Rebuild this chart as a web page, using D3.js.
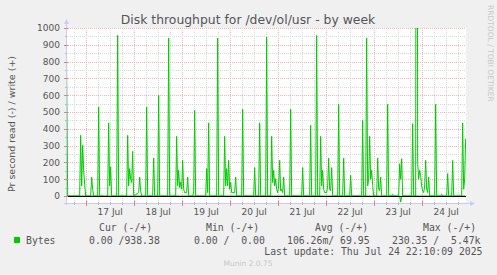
<!DOCTYPE html>
<html>
<head>
<meta charset="utf-8">
<script src="https://cdn.jsdelivr.net/npm/d3@7"></script>
<style>
  body { margin: 0; background: #f0f0f0; }
  svg text { font-family: "DejaVu Sans", sans-serif; fill: #555; }
  svg text.mono { font-family: "DejaVu Sans Mono", monospace; white-space: pre; }
</style>
</head>
<body>
<svg id="chart" width="497" height="275"></svg>
<script>
// write (+) bytes/s, half-hour samples, day + time in July 2025
const writeSeries = [
  ["16 14:10", 1200], ["16 15:00", 0], ["16 21:00", 0], ["16 21:30", 361], ["16 22:00", 60],
  ["16 22:30", 302], ["16 23:00", 150], ["16 23:30", 70], ["17 00:00", 0], ["17 02:30", 0],
  ["17 03:00", 113], ["17 03:30", 40], ["17 04:00", 0], ["17 06:00", 0], ["17 06:30", 530],
  ["17 07:00", 0], ["17 11:00", 0], ["17 11:30", 435], ["17 12:00", 60], ["17 12:30", 173],
  ["17 13:00", 0], ["17 15:30", 0], ["17 16:00", 956], ["17 16:30", 0], ["17 20:30", 0],
  ["17 21:00", 361], ["17 21:30", 60], ["17 22:00", 163], ["17 22:30", 100], ["17 23:00", 80],
  ["17 23:30", 266], ["18 00:00", 0], ["18 02:30", 20], ["18 03:00", 113], ["18 03:30", 30],
  ["18 04:00", 0], ["18 06:00", 0], ["18 06:30", 530], ["18 07:00", 0], ["18 09:30", 0],
  ["18 10:00", 226], ["18 10:30", 0], ["18 12:00", 0], ["18 12:30", 599], ["18 13:00", 0],
  ["18 17:00", 0], ["18 17:30", 940], ["18 18:00", 0], ["18 21:00", 0], ["18 21:30", 355],
  ["18 22:00", 60], ["18 22:30", 153], ["18 23:00", 50], ["18 23:30", 83], ["19 00:00", 40],
  ["19 00:30", 212], ["19 01:00", 40], ["19 01:30", 20], ["19 02:30", 20], ["19 03:00", 113],
  ["19 03:30", 0], ["19 05:30", 0], ["19 06:00", 24], ["19 06:30", 510], ["19 07:00", 0],
  ["19 12:00", 0], ["19 12:30", 163], ["19 13:00", 20], ["19 13:30", 435], ["19 14:00", 0],
  ["19 17:30", 0], ["19 18:00", 940], ["19 18:30", 0], ["19 21:00", 0], ["19 21:30", 355],
  ["19 22:00", 60], ["19 22:30", 163], ["19 23:00", 60], ["19 23:30", 212], ["20 00:00", 40],
  ["20 00:30", 83], ["20 01:00", 20], ["20 02:30", 20], ["20 03:00", 113], ["20 03:30", 0],
  ["20 06:00", 0], ["20 06:30", 516], ["20 07:00", 0], ["20 12:00", 0], ["20 12:30", 169],
  ["20 13:00", 0], ["20 14:30", 0], ["20 15:00", 435], ["20 15:30", 0], ["20 18:00", 0],
  ["20 18:30", 946], ["20 19:00", 0], ["20 20:30", 0], ["20 21:00", 355], ["20 21:30", 80],
  ["20 22:00", 153], ["20 22:30", 60], ["20 23:00", 103], ["20 23:30", 40], ["21 00:00", 20],
  ["21 00:30", 60], ["21 01:00", 212], ["21 01:30", 30], ["21 02:00", 40], ["21 02:30", 20],
  ["21 03:00", 113], ["21 03:30", 0], ["21 06:00", 0], ["21 06:30", 516], ["21 07:00", 0],
  ["21 12:00", 0], ["21 12:30", 169], ["21 13:00", 0], ["21 16:00", 0], ["21 16:30", 421],
  ["21 17:00", 0], ["21 19:00", 0], ["21 19:30", 956], ["21 20:00", 0], ["21 21:00", 0],
  ["21 21:30", 355], ["21 22:00", 60], ["21 22:30", 153], ["21 23:00", 40], ["21 23:30", 20],
  ["22 00:30", 20], ["22 01:00", 60], ["22 01:30", 226], ["22 02:00", 40], ["22 02:30", 30],
  ["22 03:00", 169], ["22 03:30", 0], ["22 06:00", 0], ["22 06:30", 546], ["22 07:00", 0],
  ["22 08:30", 0], ["22 09:00", 226], ["22 09:30", 0], ["22 12:00", 0], ["22 12:30", 123],
  ["22 13:00", 0], ["22 18:00", 0], ["22 18:30", 450], ["22 19:00", 0], ["22 20:00", 0],
  ["22 20:30", 940], ["22 21:00", 60], ["22 21:30", 100], ["22 22:00", 355], ["22 22:30", 100],
  ["22 23:00", 153], ["22 23:30", 63], ["23 00:00", 0], ["23 01:30", 0], ["23 02:00", 226],
  ["23 02:30", 40], ["23 03:00", 30], ["23 03:30", 113], ["23 04:00", 0], ["23 06:30", 0],
  ["23 07:00", 546], ["23 07:30", 0], ["23 09:00", 0], ["23 09:30", 10], ["23 10:00", 0],
  ["23 12:30", 0], ["23 13:00", 192], ["23 13:30", 100], ["23 14:00", 222], ["23 14:30", 0],
  ["23 19:00", 0], ["23 19:30", 430], ["23 20:00", 0], ["23 21:00", 0], ["23 21:30", 5470],
  ["23 22:00", 200], ["23 22:30", 100], ["23 23:00", 153], ["23 23:30", 120], ["24 00:00", 60],
  ["24 00:30", 30], ["24 01:00", 20], ["24 01:30", 60], ["24 02:00", 212], ["24 02:30", 40],
  ["24 03:00", 20], ["24 03:30", 113], ["24 04:00", 0], ["24 06:30", 0], ["24 07:00", 546],
  ["24 07:30", 0], ["24 09:30", 0], ["24 10:00", 10], ["24 10:30", 0], ["24 12:30", 0],
  ["24 13:00", 133], ["24 13:30", 0], ["24 15:00", 0], ["24 15:30", 212], ["24 16:00", 0],
  ["24 20:00", 0], ["24 20:30", 435], ["24 21:00", 40], ["24 21:30", 100], ["24 22:00", 341]
];
// read (-) bytes/s, drawn below zero
const readSeries = [
  ["16 14:10", 0], ["17 09:00", 0], ["17 09:30", 6], ["17 10:00", 0],
  ["23 13:00", 0], ["23 13:30", 36], ["23 14:00", 0], ["24 22:00", 0]
];
const yTicks = [0, 100, 200, 300, 400, 500, 600, 700, 800, 900, 1000];
const yMinorTicks = [50, 150, 250, 350, 450, 550, 650, 750, 850, 950];
const dayLabels = ["17 12:00", "18 12:00", "19 12:00", "20 12:00", "21 12:00", "22 12:00", "23 12:00", "24 12:00"];
const legendHead = ["Cur (-/+)", "Min (-/+)", "Avg (-/+)", "Max (-/+)"];
const legendValues = ["0.00 /938.38", "0.00 /  0.00", "106.26m/ 69.95", "230.35 /  5.47k"];

const parseTime = s => d3.timeParse("%Y-%m-%d %H:%M")("2025-07-" + s);
const start = parseTime("16 14:10"), end = parseTime("24 22:10");
const plotLeft = 66, plotRight = 466, plotTop = 28, plotBottom = 203;

const svg = d3.select("#chart");

const x = d3.scaleTime().domain([start, end]).range([plotLeft, plotRight]);
const y = d3.scaleLinear().domain([-41.67, 1000]).range([plotBottom, plotTop]);
const px = v => Math.round(v) + 0.5;

// canvas
svg.append("rect").attr("x", plotLeft).attr("y", plotTop)
  .attr("width", plotRight - plotLeft).attr("height", plotBottom - plotTop).attr("fill", "#fff");

const minorColor = "#d8d8d8", majorColor = "#eeb4b4";

// vertical grid
const hours6 = d3.timeHour.every(6).range(start, end).filter(d => d.getHours() !== 0);
const days = d3.timeDay.range(start, end);
svg.append("g").selectAll("line").data(hours6).join("line")
  .attr("x1", d => px(x(d))).attr("x2", d => px(x(d)))
  .attr("y1", plotTop).attr("y2", plotBottom)
  .attr("stroke", minorColor).attr("stroke-dasharray", "1,1");
svg.append("g").selectAll("line").data(days).join("line")
  .attr("x1", d => px(x(d))).attr("x2", d => px(x(d)))
  .attr("y1", plotTop).attr("y2", plotBottom)
  .attr("stroke", majorColor).attr("stroke-dasharray", "1,1");

// horizontal grid
svg.append("g").selectAll("line").data(yMinorTicks).join("line")
  .attr("x1", plotLeft).attr("x2", plotRight)
  .attr("y1", d => px(y(d))).attr("y2", d => px(y(d)))
  .attr("stroke", minorColor).attr("stroke-dasharray", "1,1");
svg.append("g").selectAll("line").data(yTicks.slice(1)).join("line")
  .attr("x1", plotLeft).attr("x2", plotRight)
  .attr("y1", d => px(y(d))).attr("y2", d => px(y(d)))
  .attr("stroke", majorColor).attr("stroke-dasharray", "1,1");

// series
svg.append("clipPath").attr("id", "plot")
  .append("rect").attr("x", plotLeft).attr("y", plotTop)
  .attr("width", plotRight - plotLeft).attr("height", plotBottom - plotTop);

const line = d3.line().x(d => x(parseTime(d[0]))).y(d => y(d[1]));
const lineRead = d3.line().x(d => x(parseTime(d[0]))).y(d => y(-d[1]));

svg.append("path").datum(readSeries).attr("clip-path", "url(#plot)")
  .attr("d", lineRead).attr("fill", "none").attr("stroke", "#00cc00").attr("stroke-width", 1);
svg.append("path").datum(writeSeries).attr("clip-path", "url(#plot)")
  .attr("d", line).attr("fill", "none").attr("stroke", "#00cc00").attr("stroke-width", 1);

// zero line
svg.append("line").attr("x1", plotLeft).attr("x2", plotRight)
  .attr("y1", px(y(0))).attr("y2", px(y(0)))
  .attr("stroke", "#000").attr("stroke-width", 1);

// axes lines and arrows
const axisColor = "#c8ccf4";
svg.append("line").attr("x1", plotLeft + 0.5).attr("x2", plotLeft + 0.5)
  .attr("y1", plotBottom + 2).attr("y2", plotTop - 5).attr("stroke", axisColor);
svg.append("path")
  .attr("d", `M${plotLeft - 2},${plotTop - 4}L${plotLeft + 0.5},${plotTop - 9}L${plotLeft + 3},${plotTop - 4}Z`)
  .attr("fill", axisColor);
svg.append("line").attr("x1", plotLeft - 2).attr("x2", plotRight + 5)
  .attr("y1", plotBottom + 0.5).attr("y2", plotBottom + 0.5).attr("stroke", axisColor);
svg.append("path")
  .attr("d", `M${plotRight + 4},${plotBottom - 2}L${plotRight + 9},${plotBottom + 0.5}L${plotRight + 4},${plotBottom + 3}Z`)
  .attr("fill", axisColor);

// axis ticks
svg.append("g").selectAll("line").data(hours6).join("line")
  .attr("x1", d => px(x(d))).attr("x2", d => px(x(d)))
  .attr("y1", plotBottom - 1).attr("y2", plotBottom + 2).attr("stroke", "#b8b8b8");
svg.append("g").selectAll("line").data(days).join("line")
  .attr("x1", d => px(x(d))).attr("x2", d => px(x(d)))
  .attr("y1", plotBottom - 2).attr("y2", plotBottom + 3).attr("stroke", "#e08080");
svg.append("g").selectAll("line").data(yMinorTicks).join("line")
  .attr("x1", plotLeft - 1).attr("x2", plotLeft + 1)
  .attr("y1", d => px(y(d))).attr("y2", d => px(y(d))).attr("stroke", "#b8b8b8");
svg.append("g").selectAll("line").data(yTicks).join("line")
  .attr("x1", plotLeft - 2).attr("x2", plotLeft + 2)
  .attr("y1", d => px(y(d))).attr("y2", d => px(y(d))).attr("stroke", "#e08080");

// y labels
const yAxis = d3.axisLeft(y).tickValues(yTicks).tickFormat(d3.format("d")).tickSize(0).tickPadding(0);
const gy = svg.append("g").attr("transform", `translate(${plotLeft - 6},0)`).call(yAxis);
gy.select(".domain").remove();
gy.selectAll("text").attr("font-size", 9).attr("fill", "#555").attr("font-family", "DejaVu Sans");

// x labels at noon
const xAxis = d3.axisBottom(x).tickValues(dayLabels.map(parseTime))
  .tickFormat(d3.timeFormat("%d %b")).tickSize(0).tickPadding(0);
const gx = svg.append("g").attr("transform", `translate(0,${plotBottom + 6})`).call(xAxis);
gx.select(".domain").remove();
gx.selectAll("text").attr("font-size", 9).attr("fill", "#555").attr("font-family", "DejaVu Sans");

// title
svg.append("text").attr("x", 248).attr("y", 24).attr("text-anchor", "middle")
  .attr("font-size", 12.4).text("Disk throughput for /dev/ol/usr - by week");

// y title
svg.append("text").attr("transform", "translate(15,124) rotate(-90)").attr("text-anchor", "middle")
  .attr("font-size", 9.5).text("Pr second read (-) / write (+)");

// right credit
svg.append("text").attr("transform", "translate(488,5) rotate(90)").attr("text-anchor", "start")
  .attr("font-size", 7.5).style("fill", "#c8c8c8").text("RRDTOOL / TOBI OETIKER");

// legend
const headX = [99, 206, 315, 423];
const valX = [89, 194, 287, 392];
svg.append("g").selectAll("text").data(legendHead).join("text").attr("class", "mono")
  .attr("x", (d, i) => headX[i]).attr("y", 227.5).attr("dominant-baseline", "central")
  .attr("font-size", 9.8).text(d => d);
svg.append("rect").attr("x", 14).attr("y", 237).attr("width", 6).attr("height", 6).attr("fill", "#00cc00");
svg.append("text").attr("class", "mono").attr("x", 26).attr("y", 240).attr("dominant-baseline", "central")
  .attr("font-size", 9.8).text("Bytes");
svg.append("g").selectAll("text").data(legendValues).join("text").attr("class", "mono")
  .attr("x", (d, i) => valX[i]).attr("y", 240).attr("dominant-baseline", "central")
  .attr("font-size", 9.8).text(d => d);
svg.append("text").attr("class", "mono").attr("x", 482.5).attr("y", 251.7).attr("text-anchor", "end")
  .attr("dominant-baseline", "central").attr("font-size", 9.8).text("Last update: Thu Jul 24 22:10:09 2025");
svg.append("text").attr("x", 248).attr("y", 263.3).attr("text-anchor", "middle")
  .attr("dominant-baseline", "central").attr("font-size", 7.5).style("fill", "#c8c8c8").text("Munin 2.0.75");
</script>
</body>
</html>
